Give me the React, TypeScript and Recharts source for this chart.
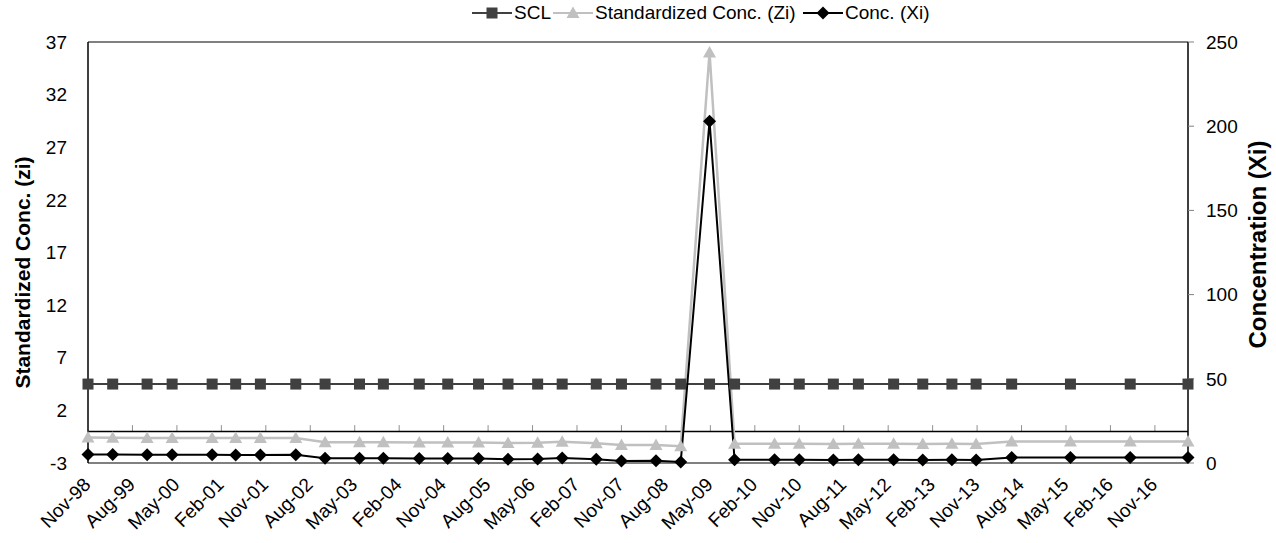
import React from 'react';
import { ComposedChart, Line, XAxis, YAxis, ReferenceLine } from 'recharts';

// sampling dates
const sampleDates = [
  '1998-11-01', '1999-04-01', '1999-10-30', '2000-04-02', '2000-12-05', '2001-04-28', '2001-09-28',
  '2002-05-03', '2002-10-31', '2003-05-30', '2003-10-25', '2004-06-03', '2004-11-26', '2005-06-03',
  '2005-12-02', '2006-06-02', '2006-10-31', '2007-05-28', '2007-11-01', '2008-06-01', '2008-10-31',
  '2009-04-26', '2009-09-28', '2010-06-01', '2010-10-31', '2011-05-28', '2011-10-30', '2012-06-04',
  '2012-12-01', '2013-05-28', '2013-10-25', '2014-06-01', '2015-05-28', '2016-06-01', '2017-05-22',
];

const concXi = [
  5.0, 5.0, 4.9, 4.9, 4.9, 4.8, 4.8, 4.9, 2.8, 2.8, 2.8, 2.7, 2.7, 2.6,
  2.3, 2.4, 3.0, 2.2, 1.2, 1.3, 0.6, 203, 1.9, 1.9, 1.9, 1.8, 1.9, 1.9,
  1.8, 1.9, 1.8, 3.3, 3.3, 3.3, 3.3,
];

const stdZi = [
  -0.58, -0.6, -0.62, -0.62, -0.62, -0.63, -0.63, -0.62, -1.03, -1.03, -1.03, -1.05, -1.05, -1.06,
  -1.1, -1.08, -0.98, -1.12, -1.3, -1.28, -1.4, 36.0, -1.18, -1.18, -1.18, -1.2, -1.18, -1.18,
  -1.2, -1.18, -1.2, -0.95, -0.95, -0.95, -0.95,
];

const sclLevel = 4.5;

const tickLabels = [
  'Nov-98', 'Aug-99', 'May-00', 'Feb-01', 'Nov-01', 'Aug-02', 'May-03', 'Feb-04', 'Nov-04',
  'Aug-05', 'May-06', 'Feb-07', 'Nov-07', 'Aug-08', 'May-09', 'Feb-10', 'Nov-10', 'Aug-11',
  'May-12', 'Feb-13', 'Nov-13', 'Aug-14', 'May-15', 'Feb-16', 'Nov-16',
];

const ziTicks = [-3, 2, 7, 12, 17, 22, 27, 32, 37];
const xiTicks = [0, 50, 100, 150, 200, 250];

const FONT = '"Liberation Sans", Arial, sans-serif';

// months elapsed since Nov 1998
const monthsFromStart = (d: string) => {
  const [y, m, day] = d.split('-').map(Number);
  return (y - 1998) * 12 + (m - 11) + (day - 1) / 30;
};

const data = sampleDates.map((d, i) => ({
  t: monthsFromStart(d),
  scl: sclLevel,
  zi: stdZi[i],
  xi: concXi[i],
}));

const xTicks = tickLabels.map((_, i) => i * 9);

const DateTick = (props: any) => {
  const { x, y, index } = props;
  const tx = x - 1;
  const ty = y + 10;
  return (
    <text
      x={tx}
      y={ty}
      dy="0.35em"
      textAnchor="end"
      transform={`rotate(-45 ${tx} ${ty})`}
      fontSize={19}
      fontFamily={FONT}
      fill="#000"
    >
      {tickLabels[index]}
    </text>
  );
};

const square = (props: any) => {
  const { cx, cy, index } = props;
  return <rect key={`s${index}`} x={cx - 5.5} y={cy - 5.5} width={11} height={11} fill="#404040" />;
};

const triangle = (props: any) => {
  const { cx, cy, index } = props;
  return (
    <path
      key={`t${index}`}
      d={`M${cx},${cy - 6.5} L${cx + 6.5},${cy + 5} L${cx - 6.5},${cy + 5} Z`}
      fill="#c0c0c0"
    />
  );
};

const diamond = (props: any) => {
  const { cx, cy, index } = props;
  return (
    <path
      key={`d${index}`}
      d={`M${cx},${cy - 6.5} L${cx + 6.5},${cy} L${cx},${cy + 6.5} L${cx - 6.5},${cy} Z`}
      fill="#000"
    />
  );
};

const LeftTitle = (props: any) => {
  const vb = props.viewBox || { x: 0, y: 42, width: 88, height: 421 };
  const x = vb.x + 22;
  const y = vb.y + vb.height / 2 + 20;
  return (
    <text
      x={x}
      y={y}
      textAnchor="middle"
      dominantBaseline="central"
      transform={`rotate(-90 ${x} ${y})`}
      fontSize={21}
      fontWeight="bold"
      fontFamily={FONT}
      fill="#000"
    >
      Standardized Conc. (zi)
    </text>
  );
};

const RightTitle = (props: any) => {
  const vb = props.viewBox || { x: 1188, y: 42, width: 88, height: 421 };
  const x = vb.x + 69;
  const y = vb.y + vb.height / 2 - 8;
  return (
    <text
      x={x}
      y={y}
      textAnchor="middle"
      dominantBaseline="central"
      transform={`rotate(-90 ${x} ${y})`}
      fontSize={24}
      fontWeight="bold"
      fontFamily={FONT}
      fill="#000"
    >
      Concentration (Xi)
    </text>
  );
};

const LegendItem: React.FC<{ color: string; marker: 'square' | 'triangle' | 'diamond'; label: string; left: number }> = ({
  color,
  marker,
  label,
  left,
}) => (
  <div style={{ position: 'absolute', left, top: 2, display: 'flex', alignItems: 'center', height: 22 }}>
    <svg width={40} height={20}>
      <line x1={0} y1={10} x2={40} y2={10} stroke={color} strokeWidth={2} />
      {marker === 'square' && <rect x={14.5} y={4.5} width={11} height={11} fill={color} />}
      {marker === 'triangle' && <path d="M20,3.5 L26.5,15 L13.5,15 Z" fill={color} />}
      {marker === 'diamond' && <path d="M20,3.5 L26.5,10 L20,16.5 L13.5,10 Z" fill={color} />}
    </svg>
    <span style={{ fontSize: 19, fontFamily: FONT, color: '#000', marginLeft: 2, whiteSpace: 'nowrap' }}>{label}</span>
  </div>
);

export default function App() {
  return (
    <div style={{ position: 'relative', width: 1276, height: 543, background: '#fff' }}>
      <style>{`body { margin: 0; }`}</style>
      <LegendItem color="#404040" marker="square" label="SCL" left={472} />
      <LegendItem color="#c0c0c0" marker="triangle" label="Standardized Conc. (Zi)" left={553} />
      <LegendItem color="#000" marker="diamond" label="Conc. (Xi)" left={803} />
      <ComposedChart width={1276} height={543} data={data} margin={{ top: 42, right: 0, bottom: 0, left: 0 }}>
        <XAxis
          dataKey="t"
          type="number"
          domain={['dataMin', 'dataMax']}
          ticks={xTicks}
          interval={0}
          height={80}
          axisLine={false}
          tickLine={false}
          tick={<DateTick />}
        />
        <YAxis
          yAxisId="z"
          orientation="left"
          domain={[-3, 37]}
          ticks={ziTicks}
          interval={0}
          width={88}
          axisLine={{ stroke: '#000', strokeWidth: 1.5 }}
          tickLine={false}
          tickMargin={15}
          tick={{ fontSize: 19, fontFamily: FONT, fill: '#000' }}
          label={<LeftTitle />}
        />
        <YAxis
          yAxisId="x"
          orientation="right"
          domain={[0, 250]}
          ticks={xiTicks}
          interval={0}
          width={88}
          axisLine={{ stroke: '#000', strokeWidth: 1.5 }}
          tickLine={{ stroke: '#808080' }}
          tickSize={6}
          tickMargin={12}
          tick={{ fontSize: 19, fontFamily: FONT, fill: '#000' }}
          label={<RightTitle />}
        />
        <ReferenceLine yAxisId="z" y={37} stroke="#808080" strokeWidth={2} />
        <ReferenceLine yAxisId="z" y={-3} stroke="#808080" strokeWidth={2} />
        {xTicks.slice(1).map((t) => (
          <ReferenceLine
            key={t}
            yAxisId="z"
            segment={[{ x: t, y: 0 }, { x: t, y: 0.6 }]}
            stroke="#909090"
            strokeWidth={1}
          />
        ))}
        <ReferenceLine yAxisId="z" y={0} stroke="#000" strokeWidth={1.5} />
        <Line
          yAxisId="z"
          dataKey="scl"
          stroke="#404040"
          strokeWidth={2}
          dot={square}
          activeDot={false}
          isAnimationActive={false}
        />
        <Line
          yAxisId="z"
          dataKey="zi"
          stroke="#c0c0c0"
          strokeWidth={2.5}
          dot={triangle}
          activeDot={false}
          isAnimationActive={false}
        />
        <Line
          yAxisId="x"
          dataKey="xi"
          stroke="#000"
          strokeWidth={2}
          dot={diamond}
          activeDot={false}
          isAnimationActive={false}
        />
      </ComposedChart>
    </div>
  );
}
